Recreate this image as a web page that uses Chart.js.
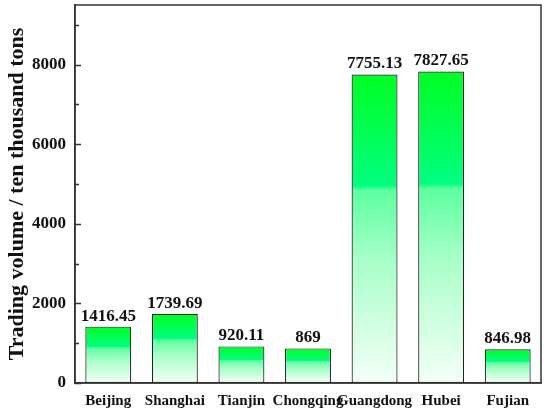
<!DOCTYPE html>
<html>
<head>
<meta charset="utf-8">
<script src="https://cdn.jsdelivr.net/npm/chart.js@4/dist/chart.umd.min.js"></script>
<style>
  html, body { margin:0; padding:0; background:#fff; }
  #wrap { width:550px; height:416px; }
</style>
</head>
<body>
<div id="wrap"><canvas id="chart" width="550" height="416"></canvas></div>
<script>
const cities = ["Beijing","Shanghai","Tianjin","Chongqing","Guangdong","Hubei","Fujian"];
const volumes = [1416.45, 1739.69, 920.11, 869, 7755.13, 7827.65, 846.98];
const volumeLabels = ["1416.45","1739.69","920.11","869","7755.13","7827.65","846.98"];
const yTicks = [0, 2000, 4000, 6000, 8000];

const SERIF = "'Liberation Serif', 'Times New Roman', serif";
const AXIS = "#333";

/* per-bar gradient: green top -> white bottom with a step around 37% */
function barFill(ctx){
  const chart = ctx.chart;
  if(!chart.chartArea || !chart.scales.y) return "#00ff40";
  const y = chart.scales.y;
  const top = y.getPixelForValue(volumes[ctx.dataIndex]);
  const base = y.getPixelForValue(0);
  if(!isFinite(top) || base - top < 1) return "#00ff40";
  const g = chart.ctx.createLinearGradient(0, top, 0, base);
  g.addColorStop(0, "#00ff22");
  g.addColorStop(0.36, "#00ff80");
  g.addColorStop(0.375, "#5cffa0");
  g.addColorStop(0.6, "#a8ffc8");
  g.addColorStop(1, "#f4fff6");
  return g;
}

const extras = {
  id: "extras",
  afterDatasetsDraw(chart){
    const c = chart.ctx;
    const a = chart.chartArea;
    const y = chart.scales.y;
    // frame top/right
    c.save();
    c.strokeStyle = AXIS;
    c.lineWidth = 1.5;
    c.strokeRect(a.left, a.top, a.right - a.left, a.bottom - a.top);
    // inward ticks
    for(let v = 0; v <= 9000; v += 1000){
      const py = Math.round(y.getPixelForValue(v)) + 0.5;
      const len = (v % 2000 === 0) ? 6 : 4;
      c.beginPath();
      c.moveTo(a.left, py);
      c.lineTo(a.left + len, py);
      c.stroke();
    }
    // value labels
    c.fillStyle = "#111";
    c.font = "bold 17px " + SERIF;
    c.textAlign = "center";
    c.textBaseline = "bottom";
    chart.getDatasetMeta(0).data.forEach((bar, i) => {
      c.fillText(volumeLabels[i], bar.x, bar.y - 2);
    });
    c.restore();
  }
};

new Chart(document.getElementById("chart"), {
  type: "bar",
  data: {
    labels: cities,
    datasets: [{
      data: volumes,
      backgroundColor: barFill,
      borderColor: "#222",
      borderWidth: 1.2,
      borderSkipped: false,
      barPercentage: 0.69,
      categoryPercentage: 1
    }]
  },
  options: {
    responsive: false,
    animation: false,
    layout: { padding: { top: 5, right: 9, left: 4, bottom: 0 } },
    plugins: { legend: { display: false }, tooltip: { enabled: false } },
    scales: {
      x: {
        grid: { display: false, drawTicks: false },
        border: { color: AXIS, width: 1.5 },
        ticks: {
          color: "#111",
          font: { family: SERIF, size: 15, weight: "bold" },
          padding: 9,
          maxRotation: 0,
          minRotation: 0,
          autoSkip: false
        },
        afterFit: s => { s.height = 33; s.paddingLeft = 0; s.paddingRight = 0; }
      },
      y: {
        min: 0,
        max: 9500,
        afterBuildTicks: s => { s.ticks = yTicks.map(v => ({ value: v })); },
        grid: { display: false, drawTicks: false },
        border: { color: AXIS, width: 1.5 },
        ticks: {
          color: "#111",
          font: { family: SERIF, size: 17, weight: "bold" },
          padding: 9,
          callback: v => String(v)
        },
        title: {
          display: true,
          text: "Trading volume / ten thousand tons",
          color: "#111",
          font: { family: SERIF, size: 22, weight: "bold" },
          padding: { top: 0, bottom: 4 }
        },
        afterFit: s => { s.width = 71; s.paddingTop = 0; s.paddingBottom = 0; }
      }
    }
  },
  plugins: [extras]
});
</script>
</body>
</html>
